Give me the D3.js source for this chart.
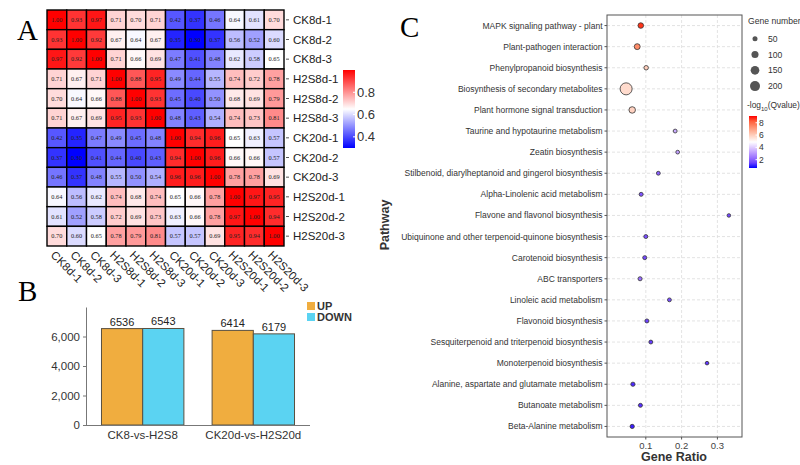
<!doctype html>
<html>
<head>
<meta charset="utf-8">
<script src="https://cdn.jsdelivr.net/npm/d3@7"></script>
<style>
  body { margin: 0; background: #fff; }
  svg { display: block; }
</style>
</head>
<body>
<div id="fig"></div>
<script>
// ---- data ----
const samples = ["CK8d-1", "CK8d-2", "CK8d-3", "H2S8d-1", "H2S8d-2", "H2S8d-3",
  "CK20d-1", "CK20d-2", "CK20d-3", "H2S20d-1", "H2S20d-2", "H2S20d-3"];
const corr = [
  [1.00, 0.93, 0.97, 0.71, 0.70, 0.71, 0.42, 0.37, 0.46, 0.64, 0.61, 0.70],
  [0.93, 1.00, 0.92, 0.67, 0.64, 0.67, 0.35, 0.30, 0.37, 0.56, 0.52, 0.60],
  [0.97, 0.92, 1.00, 0.71, 0.66, 0.69, 0.47, 0.41, 0.48, 0.62, 0.58, 0.65],
  [0.71, 0.67, 0.71, 1.00, 0.88, 0.95, 0.49, 0.44, 0.55, 0.74, 0.72, 0.78],
  [0.70, 0.64, 0.66, 0.88, 1.00, 0.93, 0.45, 0.40, 0.50, 0.68, 0.69, 0.79],
  [0.71, 0.67, 0.69, 0.95, 0.93, 1.00, 0.48, 0.43, 0.54, 0.74, 0.73, 0.81],
  [0.42, 0.35, 0.47, 0.49, 0.45, 0.48, 1.00, 0.94, 0.96, 0.65, 0.63, 0.57],
  [0.37, 0.30, 0.41, 0.44, 0.40, 0.43, 0.94, 1.00, 0.96, 0.66, 0.66, 0.57],
  [0.46, 0.37, 0.48, 0.55, 0.50, 0.54, 0.96, 0.96, 1.00, 0.78, 0.78, 0.69],
  [0.64, 0.56, 0.62, 0.74, 0.68, 0.74, 0.65, 0.66, 0.78, 1.00, 0.97, 0.95],
  [0.61, 0.52, 0.58, 0.72, 0.69, 0.73, 0.63, 0.66, 0.78, 0.97, 1.00, 0.94],
  [0.70, 0.60, 0.65, 0.78, 0.79, 0.81, 0.57, 0.57, 0.69, 0.95, 0.94, 1.00]
];
const corrTicks = [0.4, 0.6, 0.8];

const comparisons = ["CK8-vs-H2S8", "CK20d-vs-H2S20d"];
const regulation = ["UP", "DOWN"];
const upCounts = [6536, 6414];
const downCounts = [6543, 6179];
const countTicks = [0, 2000, 4000, 6000];

const pathways = [
  "MAPK signaling pathway - plant",
  "Plant-pathogen interaction",
  "Phenylpropanoid biosynthesis",
  "Biosynthesis of secondary metabolites",
  "Plant hormone signal transduction",
  "Taurine and hypotaurine metabolism",
  "Zeatin biosynthesis",
  "Stilbenoid, diarylheptanoid and gingerol biosynthesis",
  "Alpha-Linolenic acid metabolism",
  "Flavone and flavonol biosynthesis",
  "Ubiquinone and other terpenoid-quinone biosynthesis",
  "Carotenoid biosynthesis",
  "ABC transporters",
  "Linoleic acid metabolism",
  "Flavonoid biosynthesis",
  "Sesquiterpenoid and triterpenoid biosynthesis",
  "Monoterpenoid biosynthesis",
  "Alanine, aspartate and glutamate metabolism",
  "Butanoate metabolism",
  "Beta-Alanine metabolism"
];
const geneRatio = [0.086, 0.076, 0.101, 0.045, 0.062, 0.182, 0.189, 0.135, 0.087, 0.332,
  0.100, 0.097, 0.084, 0.166, 0.103, 0.114, 0.271, 0.064, 0.085, 0.062];
const geneNumber = [62, 70, 40, 290, 85, 30, 28, 30, 32, 26, 32, 32, 34, 30, 32, 30, 26, 36, 32, 36];
const qValue = [8.8, 7.4, 6.0, 5.7, 5.9, 3.4, 3.2, 2.0, 1.8, 1.6, 1.7, 1.6, 2.3, 1.7, 1.5, 1.4, 1.3, 1.1, 1.2, 0.9];
const ratioTicks = [0.1, 0.2, 0.3];
const sizeLegend = [50, 100, 150, 200];
const qTicks = [2, 4, 6, 8];

// ---- svg ----
const W = 800, H = 465;
const svg = d3.select("#fig").append("svg")
  .attr("width", W).attr("height", H)
  .style("font-family", "'Liberation Sans', Arial, sans-serif");
svg.append("rect").attr("width", W).attr("height", H).attr("fill", "#fff");
const defs = svg.append("defs");

function panelLetter(t, x, y) {
  svg.append("text").attr("x", x).attr("y", y).text(t)
    .style("font-family", "'Liberation Serif', 'Times New Roman', serif")
    .style("font-size", "29px").attr("fill", "#000");
}

// ================= A : correlation heatmap =================
(function() {
  const x = d3.scaleBand().domain(samples).range([47, 284]);
  const y = d3.scaleBand().domain(samples).range([10, 246]);
  const color = d3.scaleLinear().domain([0.30, 0.65, 1.00]).range(["#0000ff", "#ffffff", "#ff0000"]);

  const cells = [];
  corr.forEach((row, i) => row.forEach((v, j) => cells.push({r: samples[i], c: samples[j], v: v})));

  const g = svg.append("g");
  g.selectAll("rect").data(cells).enter().append("rect")
    .attr("x", d => x(d.c)).attr("y", d => y(d.r))
    .attr("width", x.bandwidth()).attr("height", y.bandwidth())
    .attr("fill", d => color(d.v))
    .attr("stroke", "#000").attr("stroke-width", 1.4);

  g.selectAll("text.val").data(cells).enter().append("text")
    .attr("class", "val")
    .attr("x", d => x(d.c) + x.bandwidth() / 2)
    .attr("y", d => y(d.r) + y.bandwidth() / 2 + 2.2)
    .attr("text-anchor", "middle")
    .style("font-family", "'Liberation Serif', serif")
    .style("font-size", "6.3px")
    .attr("fill", "#222")
    .text(d => d.v.toFixed(2));

  // row labels
  const rl = g.selectAll("g.row").data(samples).enter().append("g")
    .attr("transform", d => `translate(284,${y(d) + y.bandwidth() / 2})`);
  rl.append("line").attr("x1", 2).attr("x2", 5).attr("stroke", "#555");
  rl.append("text").attr("x", 9).attr("dy", "0.35em")
    .style("font-size", "11.5px").attr("fill", "#222").text(d => d);

  // column labels
  g.selectAll("text.col").data(samples).enter().append("text")
    .attr("class", "col")
    .attr("transform", d => `translate(${x(d) + x.bandwidth() / 2 - 4},${253}) rotate(45)`)
    .attr("dy", "0.35em")
    .style("font-size", "11.5px").attr("fill", "#222").text(d => d);

  // colour bar
  const cb = d3.scaleLinear().domain([0.30, 1.00]).range([148, 70]);
  const grad = defs.append("linearGradient").attr("id", "gA")
    .attr("x1", 0).attr("x2", 0).attr("y1", 1).attr("y2", 0);
  d3.range(0, 1.0001, 0.1).forEach(t => {
    grad.append("stop").attr("offset", t).attr("stop-color", color(0.30 + t * 0.70));
  });
  g.append("rect").attr("x", 343).attr("y", 70).attr("width", 12).attr("height", 78)
    .attr("fill", "url(#gA)");
  const cbt = g.selectAll("g.cbt").data(corrTicks).enter().append("g")
    .attr("transform", d => `translate(355,${cb(d)})`);
  cbt.append("line").attr("x1", -2).attr("x2", 0).attr("stroke", "#fff");
  cbt.append("text").attr("x", 2).attr("dy", "0.35em")
    .style("font-size", "13px").attr("fill", "#333").text(d => d.toFixed(1));

  panelLetter("A", 17, 40);
})();

// ================= B : DEG bar chart =================
(function() {
  const y = d3.scaleLinear().domain([0, 8000]).range([425, 307]);
  const x0 = d3.scaleBand().domain(comparisons).range([86, 310]).paddingInner(0.255).paddingOuter(0.14);
  const x1 = d3.scaleBand().domain(regulation).range([0, x0.bandwidth()]);
  const colors = {UP: "#F0AD3F", DOWN: "#5BD3F2"};
  const rows = comparisons.map((c, i) => ({c: c, vals: [
    {k: "UP", v: upCounts[i]}, {k: "DOWN", v: downCounts[i]}]}));

  const g = svg.append("g");
  const grp = g.selectAll("g.grp").data(rows).enter().append("g")
    .attr("transform", d => `translate(${x0(d.c)},0)`);
  grp.selectAll("rect").data(d => d.vals).enter().append("rect")
    .attr("x", d => x1(d.k)).attr("y", d => y(d.v))
    .attr("width", x1.bandwidth()).attr("height", d => y(0) - y(d.v))
    .attr("fill", d => colors[d.k]).attr("stroke", "#5a5040").attr("stroke-width", 1);
  grp.selectAll("text").data(d => d.vals).enter().append("text")
    .attr("x", d => x1(d.k) + x1.bandwidth() / 2).attr("y", d => y(d.v) - 3)
    .attr("text-anchor", "middle").style("font-size", "11px").attr("fill", "#222")
    .text(d => d.v);

  const ya = g.append("g").attr("transform", "translate(86,0)")
    .call(d3.axisLeft(y).tickValues(countTicks).tickFormat(d3.format(",")).tickSize(3).tickSizeOuter(0));
  ya.select(".domain").attr("stroke", "#777");
  ya.selectAll(".tick line").attr("stroke", "#777");
  ya.selectAll("text").style("font-size", "11.5px").attr("fill", "#333")
    .style("font-family", "'Liberation Sans', Arial, sans-serif");

  const xa = g.append("g").attr("transform", "translate(0,425)")
    .call(d3.axisBottom(x0).tickSize(0).tickSizeOuter(0).tickPadding(6));
  xa.select(".domain").attr("stroke", "#777").attr("d", "M86,0.5H310");
  xa.selectAll("text").style("font-size", "11.5px").attr("fill", "#333")
    .style("font-family", "'Liberation Sans', Arial, sans-serif");

  // legend
  const lg = g.selectAll("g.lg").data(regulation).enter().append("g")
    .attr("transform", (d, i) => `translate(307,${302 + i * 11})`);
  lg.append("rect").attr("width", 8).attr("height", 8).attr("fill", d => colors[d]);
  lg.append("text").attr("x", 10).attr("y", 4).attr("dy", "0.35em")
    .style("font-size", "11px").style("font-weight", "bold").attr("fill", "#333").text(d => d);

  panelLetter("B", 18, 301);
})();

// ================= C : KEGG enrichment bubble plot =================
(function() {
  const x = d3.scaleLinear().domain([-0.0084, 0.3687]).range([607, 742]);
  const y = d3.scalePoint().domain(pathways).range([15, 437]).padding(0.5);
  const r = d3.scaleSqrt().domain([0, 200]).range([0, 5]);
  const color = d3.scaleLinear().domain([0.65, 4.9, 9.1]).range(["#0000ff", "#ffffff", "#ff0000"])
    .interpolate(d3.interpolateLab);

  const g = svg.append("g");
  // grid
  g.selectAll("line.hg").data(pathways).enter().append("line")
    .attr("x1", 607).attr("x2", 742).attr("y1", d => y(d)).attr("y2", d => y(d))
    .attr("stroke", "#dcdcdc").attr("stroke-width", 0.8).attr("stroke-dasharray", "3,2");
  g.selectAll("line.vg").data(ratioTicks).enter().append("line")
    .attr("x1", d => x(d)).attr("x2", d => x(d)).attr("y1", 15).attr("y2", 437)
    .attr("stroke", "#dcdcdc").attr("stroke-width", 0.8).attr("stroke-dasharray", "3,2");

  const pts = pathways.map((p, i) => ({p: p, gr: geneRatio[i], n: geneNumber[i], q: qValue[i]}));
  g.selectAll("circle.pt").data(pts).enter().append("circle")
    .attr("cx", d => x(d.gr)).attr("cy", d => y(d.p)).attr("r", d => r(d.n))
    .attr("fill", d => color(d.q)).attr("stroke", "#333").attr("stroke-width", 0.8);

  g.append("rect").attr("x", 607).attr("y", 15).attr("width", 135).attr("height", 422)
    .attr("fill", "none").attr("stroke", "#555").attr("stroke-width", 1);

  // y axis labels
  const yl = g.selectAll("g.yl").data(pathways).enter().append("g")
    .attr("transform", d => `translate(607,${y(d)})`);
  yl.append("line").attr("x1", -2.5).attr("x2", 0).attr("stroke", "#555");
  yl.append("text").attr("x", -4.5).attr("dy", "0.35em").attr("text-anchor", "end")
    .style("font-size", "8.5px").attr("fill", "#333").text(d => d);

  // x axis
  const xa = g.selectAll("g.xt").data(ratioTicks).enter().append("g")
    .attr("transform", d => `translate(${x(d)},437)`);
  xa.append("line").attr("y2", 2.5).attr("stroke", "#555");
  xa.append("text").attr("y", 12).attr("text-anchor", "middle")
    .style("font-size", "9.5px").attr("fill", "#444").text(d => d.toFixed(1));
  g.append("text").attr("x", 674).attr("y", 461).attr("text-anchor", "middle")
    .style("font-size", "12.5px").style("font-weight", "bold").attr("fill", "#333").text("Gene Ratio");
  g.append("text").attr("transform", "translate(389,225) rotate(-90)").attr("text-anchor", "middle")
    .style("font-size", "12.5px").style("font-weight", "bold").attr("fill", "#333").text("Pathway");

  // size legend
  g.append("text").attr("x", 748).attr("y", 24).style("font-size", "8.6px").attr("fill", "#333").text("Gene number");
  const sl = g.selectAll("g.sl").data(sizeLegend).enter().append("g")
    .attr("transform", (d, i) => `translate(755,${38.7 + i * 15.8})`);
  sl.append("circle").attr("r", d => r(d)).attr("fill", "#555");
  sl.append("text").attr("x", 13).attr("dy", "0.35em").style("font-size", "8.6px").attr("fill", "#333").text(d => d);

  // colour legend
  const qt = g.append("text").attr("x", 747).attr("y", 108).style("font-size", "8.4px").attr("fill", "#333");
  qt.append("tspan").text("-log");
  qt.append("tspan").attr("dy", 2.5).style("font-size", "6px").text("10");
  qt.append("tspan").attr("dy", -2.5).text("(Qvalue)");

  const cb = d3.scaleLinear().domain([0.65, 9.1]).range([168, 116]);
  const grad = defs.append("linearGradient").attr("id", "gC")
    .attr("x1", 0).attr("x2", 0).attr("y1", 1).attr("y2", 0);
  d3.range(0, 1.0001, 0.1).forEach(t => {
    grad.append("stop").attr("offset", t).attr("stop-color", color(0.65 + t * (9.1 - 0.65)));
  });
  g.append("rect").attr("x", 749).attr("y", 116).attr("width", 8).attr("height", 52).attr("fill", "url(#gC)");
  const ct = g.selectAll("g.ct").data(qTicks).enter().append("g")
    .attr("transform", d => `translate(757,${cb(d)})`);
  ct.append("line").attr("x1", -1.5).attr("x2", 0).attr("stroke", "#fff");
  ct.append("text").attr("x", 2).attr("dy", "0.35em").style("font-size", "8.5px").attr("fill", "#333").text(d => d);

  panelLetter("C", 400, 37);
})();
</script>
</body>
</html>
